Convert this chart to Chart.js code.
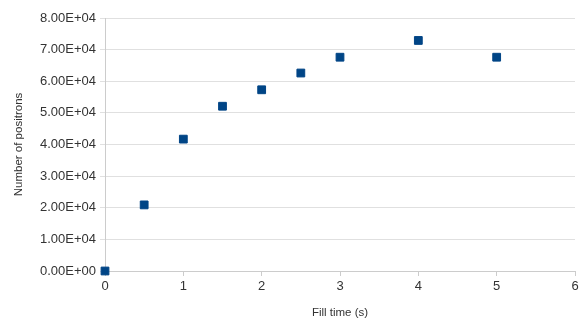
<!DOCTYPE html>
<html>
<head>
<meta charset="utf-8">
<script src="https://cdn.jsdelivr.net/npm/chart.js@4"></script>
<style>
  html, body { margin: 0; padding: 0; background: #fff; }
  #wrap { width: 586px; height: 329px; }
</style>
</head>
<body>
<div id="wrap"><canvas id="c" width="586" height="329"></canvas></div>
<script>
// fill time (s) vs number of positrons
const fillTimes = [0, 0.5, 1, 1.5, 2, 2.5, 3, 4, 5];
const positrons = [0, 20900, 41700, 52100, 57300, 62600, 67600, 72900, 67600];
const xTicks = [0, 1, 2, 3, 4, 5, 6];
const yTicks = [0, 10000, 20000, 30000, 40000, 50000, 60000, 70000, 80000];

function sci(v) {
  if (v === 0) return "0.00E+00";
  const e = Math.floor(Math.log10(Math.abs(v)));
  const m = v / Math.pow(10, e);
  return m.toFixed(2) + "E" + (e < 0 ? "-" : "+") + String(Math.abs(e)).padStart(2, "0");
}

const tickFont = { family: "'Liberation Sans', Arial, sans-serif", size: 13 };
const titleFont = { family: "'Liberation Sans', Arial, sans-serif", size: 11.5 };

new Chart(document.getElementById("c"), {
  type: "scatter",
  data: {
    datasets: [{
      label: "Positrons",
      data: fillTimes.map((x, i) => ({ x, y: positrons[i] })),
      pointStyle: "rect",
      pointRadius: 5.5,
      pointHoverRadius: 5.5,
      backgroundColor: "#004586",
      borderColor: "#004586",
      borderWidth: 1,
      clip: false,
    }],
  },
  options: {
    responsive: false,
    animation: false,
    layout: { padding: { top: 18, right: 11, left: 0, bottom: 0 } },
    plugins: { legend: { display: false }, tooltip: { enabled: false } },
    scales: {
      x: {
        type: "linear",
        min: 0, max: 6,
        afterBuildTicks: s => { s.ticks = xTicks.map(v => ({ value: v })); },
        ticks: { font: tickFont, color: "#333", padding: 3, maxRotation: 0 },
        grid: { drawOnChartArea: false, drawTicks: true, tickLength: 5, color: "#ccc" },
        border: { color: "#ccc" },
        title: { display: true, text: "Fill time (s)", font: titleFont, color: "#333", padding: { top: 1, bottom: 9 } },
        afterFit: s => { s.height = 58; },
      },
      y: {
        min: 0, max: 80000,
        afterBuildTicks: s => { s.ticks = yTicks.map(v => ({ value: v })); },
        ticks: { font: tickFont, color: "#333", padding: 4, callback: v => sci(v) },
        grid: { color: "#e0e0e0", tickLength: 5 },
        border: { color: "#ccc" },
        title: { display: true, text: "Number of positrons", font: titleFont, color: "#333", padding: { top: 12, bottom: 0 } },
        afterFit: s => { s.width = 105; },
      },
    },
  },
});
</script>
</body>
</html>
